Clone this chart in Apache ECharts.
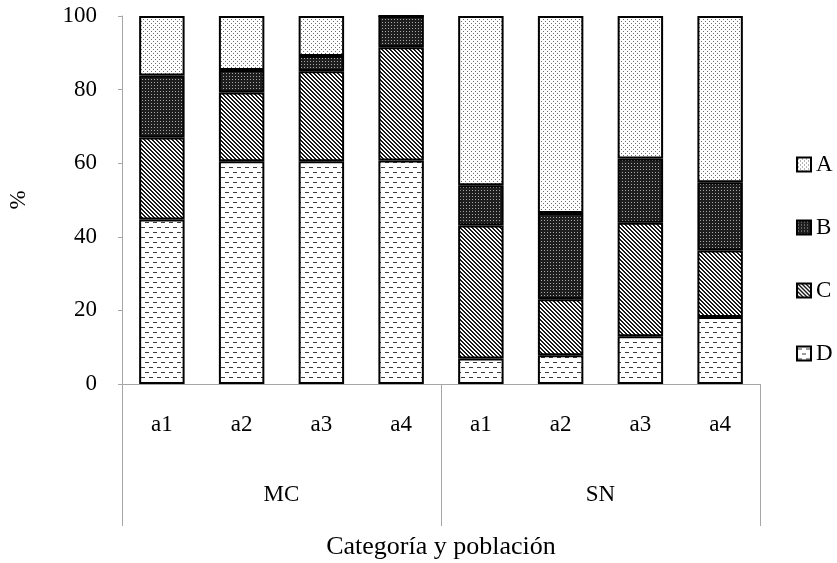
<!DOCTYPE html>
<html>
<head>
<meta charset="utf-8">
<script src="https://cdn.jsdelivr.net/npm/echarts@6/dist/echarts.min.js"></script>
<style>
  html, body { margin: 0; padding: 0; background: #fff; }
  #main { width: 837px; height: 563px; }
</style>
</head>
<body>
<div id="main"></div>
<script>
// data
var groups = ['MC', 'SN'];
var levels = ['a1', 'a2', 'a3', 'a4'];
var seriesNames = ['A', 'B', 'C', 'D'];
var valuesD = [44.7, 60.5, 60.5, 60.7, 6.9, 7.8, 13.0, 18.2];
var valuesC = [22.3, 18.7, 24.5, 30.8, 36.2, 15.2, 30.8, 18.1];
var valuesB = [16.8, 6.1, 4.1, 8.5, 10.9, 23.5, 17.5, 18.5];
var valuesA = [16.2, 14.7, 10.9, 0, 46.0, 53.5, 38.7, 45.2];
var yTicks = [0, 20, 40, 60, 80, 100];

var categories = [];
groups.forEach(function (g) {
  levels.forEach(function (l) { categories.push(g + '|' + l); });
});

// small tiles used as fill patterns
function tile(w, h, draw) {
  var c = document.createElement('canvas');
  c.width = w; c.height = h;
  var ctx = c.getContext('2d');
  draw(ctx);
  return c;
}
var patA = tile(4, 4, function (ctx) {
  ctx.fillStyle = '#fff'; ctx.fillRect(0, 0, 4, 4);
  ctx.fillStyle = '#6e6e6e';
  ctx.fillRect(1, 1, 1, 1); ctx.fillRect(3, 3, 1, 1);
});
var patB = tile(3, 3, function (ctx) {
  ctx.fillStyle = '#1e1e1e'; ctx.fillRect(0, 0, 3, 3);
  ctx.fillStyle = '#a8a8a8';
  ctx.fillRect(1, 1, 1, 1);
});
var patC = tile(4, 4, function (ctx) {
  ctx.fillStyle = '#fff'; ctx.fillRect(0, 0, 4, 4);
  ctx.fillStyle = '#1a1a1a';
  for (var y = 0; y < 4; y++) {
    for (var x = 0; x < 4; x++) {
      var d = ((x - y) % 4 + 4) % 4;
      if (d === 0 || d === 1) ctx.fillRect(x, y, 1, 1);
    }
  }
});
var patD = tile(8, 10, function (ctx) {
  ctx.fillStyle = '#fff'; ctx.fillRect(0, 0, 8, 10);
  ctx.fillStyle = '#3c3c3c';
  ctx.fillRect(1, 2, 4, 1);
  ctx.fillRect(5, 7, 3, 1); ctx.fillRect(0, 7, 1, 1);
});

var font = 'Liberation Serif';
var axisGray = '#a6a6a6';

function barSeries(name, data, pat) {
  return {
    name: name,
    type: 'bar',
    stack: 'total',
    barWidth: '57%',
    data: data,
    itemStyle: {
      color: { image: pat, repeat: 'repeat' },
      borderColor: '#000',
      borderWidth: 2
    },
    emphasis: { disabled: true }
  };
}

var chart = echarts.init(document.getElementById('main'));
chart.setOption({
  backgroundColor: '#fff',
  animation: false,
  textStyle: { fontFamily: font, color: '#000' },
  grid: { left: 122, right: 77, top: 16, bottom: 179, outerBoundsMode: 'none' },
  legend: {
    orient: 'vertical',
    left: 791,
    top: 148,
    itemWidth: 14,
    itemHeight: 14,
    itemGap: 40,
    icon: 'rect',
    data: seriesNames,
    textStyle: { fontFamily: font, fontSize: 23, color: '#000', lineHeight: 23 }
  },
  xAxis: [
    {
      type: 'category',
      data: categories,
      position: 'bottom',
      axisLine: { lineStyle: { color: axisGray, width: 1 } },
      axisTick: { show: false },
      axisLabel: {
        margin: 29,
        fontFamily: font,
        fontSize: 23,
        color: '#000',
        formatter: function (v) { return v.split('|')[1]; }
      }
    },
    {
      type: 'category',
      data: groups,
      position: 'bottom',
      axisLine: { show: false },
      axisTick: { show: true, inside: false, length: 142, lineStyle: { color: axisGray } },
      axisLabel: { margin: 99, fontFamily: font, fontSize: 23, color: '#000' },
      name: 'Categoría y población',
      nameLocation: 'middle',
      nameGap: 150,
      nameTextStyle: { fontFamily: font, fontSize: 26, color: '#000' }
    }
  ],
  yAxis: {
    type: 'value',
    min: 0,
    max: 100,
    interval: 20,
    name: '%',
    nameLocation: 'middle',
    nameRotate: 90,
    nameGap: 92,
    nameTextStyle: { fontFamily: font, fontSize: 23, color: '#000' },
    axisLine: { show: true, lineStyle: { color: axisGray } },
    axisTick: { show: true, length: 4, lineStyle: { color: axisGray } },
    splitLine: { show: false },
    axisLabel: {
      margin: 25,
      fontFamily: font,
      fontSize: 23,
      color: '#000',
      customValues: yTicks
    }
  },
  series: [
    barSeries('D', valuesD, patD),
    barSeries('C', valuesC, patC),
    barSeries('B', valuesB, patB),
    barSeries('A', valuesA, patA)
  ]
});
window.onresize = function () { chart.resize(); };
</script>
</body>
</html>
